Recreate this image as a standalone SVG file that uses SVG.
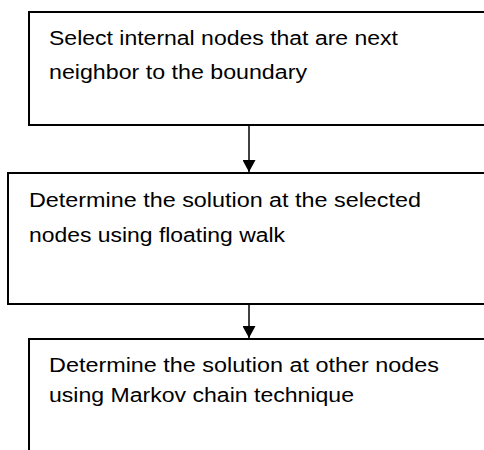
<svg xmlns="http://www.w3.org/2000/svg" width="484" height="450" viewBox="0 0 484 450">
  <style>
    .box { fill: #ffffff; stroke: #000000; stroke-width: 2; }
    .lbl { font-family: "Liberation Sans", Arial, sans-serif; font-size: 20px; fill: #000000; }
    .conn { stroke: #000000; stroke-width: 1.5; fill: none; }
  </style>
  <defs>
    <marker id="arrow" viewBox="0 0 12 13" refX="12" refY="6.5" markerWidth="12" markerHeight="13" markerUnits="userSpaceOnUse" orient="auto">
      <path d="M0,0 L12,6.5 L0,13 Z" fill="#000000"/>
    </marker>
  </defs>
  <rect width="484" height="450" fill="#ffffff"/>
  <g id="node1">
    <rect class="box" x="29" y="12" width="470" height="113"/>
    <text class="lbl" x="49" y="45" textLength="349" lengthAdjust="spacingAndGlyphs">Select internal nodes that are next</text>
    <text class="lbl" x="49" y="79" textLength="258" lengthAdjust="spacingAndGlyphs">neighbor to the boundary</text>
  </g>
  <g id="node2">
    <rect class="box" x="8" y="173" width="490" height="131"/>
    <text class="lbl" x="29" y="207" textLength="392" lengthAdjust="spacingAndGlyphs">Determine the solution at the selected</text>
    <text class="lbl" x="29" y="242" textLength="256" lengthAdjust="spacingAndGlyphs">nodes using floating walk</text>
  </g>
  <g id="node3">
    <rect class="box" x="29" y="339" width="470" height="130"/>
    <text class="lbl" x="49" y="372" textLength="390" lengthAdjust="spacingAndGlyphs">Determine the solution at other nodes</text>
    <text class="lbl" x="49" y="402" textLength="305" lengthAdjust="spacingAndGlyphs">using Markov chain technique</text>
  </g>
  <g id="connectors">
    <line class="conn" x1="249" y1="126" x2="249" y2="172" marker-end="url(#arrow)"/>
    <line class="conn" x1="249" y1="305" x2="249" y2="338" marker-end="url(#arrow)"/>
  </g>
</svg>
